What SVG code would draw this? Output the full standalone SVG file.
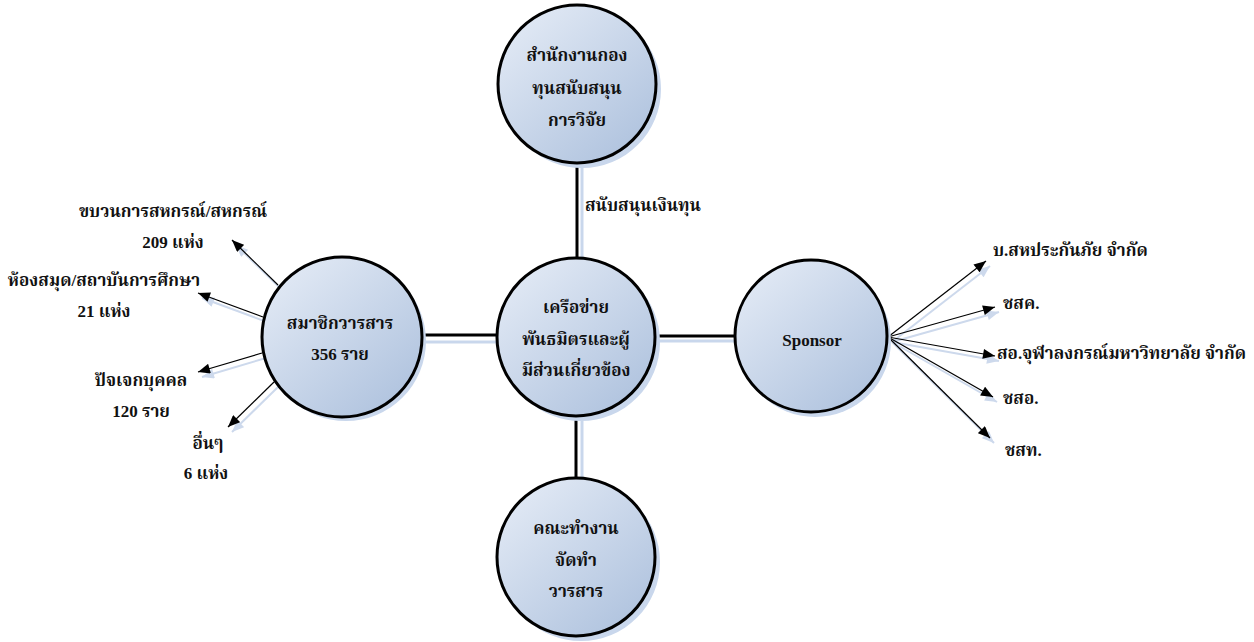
<svg xmlns="http://www.w3.org/2000/svg" width="1254" height="642" viewBox="0 0 1254 642">
<defs>
<linearGradient id="g" x1="0.15" y1="0.1" x2="0.85" y2="0.9">
<stop offset="0" stop-color="#e0e8f4"/>
<stop offset="1" stop-color="#b1c4df"/>
</linearGradient>
<marker id="ah" viewBox="0 0 12 10" refX="12" refY="5" markerWidth="13" markerHeight="10" markerUnits="userSpaceOnUse" orient="auto">
<path d="M0,0 L12,5 L0,10 z" fill="#000"/>
</marker>
<marker id="ahs" viewBox="0 0 12 10" refX="12" refY="5" markerWidth="13" markerHeight="10" markerUnits="userSpaceOnUse" orient="auto">
<path d="M0,0 L12,5 L0,10 z" fill="#cdd9ec"/>
</marker>
</defs>
<style>
.node circle.c{fill:url(#g);stroke:#000;stroke-width:3}
.node circle.s{fill:#c9d7ec}
.t{font-family:"Liberation Serif","Noto Serif Thai","Noto Sans Thai",serif;font-weight:bold;font-size:17px;fill:#111;text-anchor:middle;dominant-baseline:central}
.l{font-family:"Liberation Serif","Noto Serif Thai","Noto Sans Thai",serif;font-weight:bold;font-size:17px;fill:#111;dominant-baseline:central}
.conn{stroke:#000;stroke-width:3;fill:none}
.conns{stroke:#c9d7ec;stroke-width:3;fill:none}
.arr{stroke:#000;stroke-width:1.2;fill:none;marker-end:url(#ah)}
.arrs{stroke:#cdd9ec;stroke-width:2;fill:none;marker-end:url(#ahs)}
</style>
<rect width="1254" height="642" fill="#fff"/>
<g id="connectors">
<g class="conns">
<line x1="582" y1="163" x2="582" y2="263"/>
<line x1="582" y1="420" x2="582" y2="482"/>
<line x1="420" y1="342" x2="507" y2="342"/>
<line x1="655" y1="341" x2="740" y2="341"/>
</g>
<g class="conn">
<line x1="577" y1="163" x2="577" y2="258"/>
<line x1="576" y1="416" x2="576" y2="478"/>
<line x1="420" y1="335" x2="498" y2="335"/>
<line x1="655" y1="336" x2="736" y2="336"/>
</g>
<g transform="translate(4,5)">
<line class="arrs" x1="278" y1="285" x2="232" y2="240"/>
<line class="arrs" x1="263" y1="317" x2="198" y2="293"/>
<line class="arrs" x1="262" y1="353" x2="198" y2="372"/>
<line class="arrs" x1="274" y1="382" x2="228" y2="427"/>
<line class="arrs" x1="888" y1="337" x2="986" y2="261"/>
<line class="arrs" x1="888" y1="337" x2="995" y2="307"/>
<line class="arrs" x1="888" y1="337" x2="995" y2="356"/>
<line class="arrs" x1="888" y1="337" x2="993" y2="397"/>
<line class="arrs" x1="888" y1="337" x2="990" y2="438"/>
</g>
<line class="arr" x1="278" y1="285" x2="232" y2="240"/>
<line class="arr" x1="263" y1="317" x2="198" y2="293"/>
<line class="arr" x1="262" y1="353" x2="198" y2="372"/>
<line class="arr" x1="274" y1="382" x2="228" y2="427"/>
<line class="arr" x1="888" y1="337" x2="986" y2="261"/>
<line class="arr" x1="888" y1="337" x2="995" y2="307"/>
<line class="arr" x1="888" y1="337" x2="995" y2="356"/>
<line class="arr" x1="888" y1="337" x2="993" y2="397"/>
<line class="arr" x1="888" y1="337" x2="990" y2="438"/>
<text class="l" x="585" y="205">สนับสนุนเงินทุน</text>
</g>
<g id="n-top" class="node">
<circle class="s" cx="582" cy="89" r="79"/>
<circle class="c" cx="577" cy="84" r="79"/>
<text class="t" x="577" y="55">สำนักงานกอง</text>
<text class="t" x="577" y="88">ทุนสนับสนุน</text>
<text class="t" x="577" y="120">การวิจัย</text>
</g>
<g id="n-center" class="node">
<circle class="s" cx="581" cy="342" r="79"/>
<circle class="c" cx="576" cy="337" r="79"/>
<text class="t" x="576" y="307">เครือข่าย</text>
<text class="t" x="576" y="339">พันธมิตรและผู้</text>
<text class="t" x="576" y="370">มีส่วนเกี่ยวข้อง</text>
</g>
<g id="n-bottom" class="node">
<circle class="s" cx="581" cy="562" r="79"/>
<circle class="c" cx="576" cy="557" r="79"/>
<text class="t" x="576" y="528">คณะทำงาน</text>
<text class="t" x="576" y="560">จัดทำ</text>
<text class="t" x="576" y="591">วารสาร</text>
</g>
<g id="n-left" class="node">
<circle class="s" cx="346" cy="341" r="80"/>
<circle class="c" cx="342" cy="337" r="80"/>
<text class="t" x="340" y="323">สมาชิกวารสาร</text>
<text class="t" x="340" y="354">356 ราย</text>
</g>
<g id="n-sponsor" class="node">
<circle class="s" cx="815" cy="341" r="76"/>
<circle class="c" cx="811" cy="336" r="76"/>
<text class="t" x="812" y="340">Sponsor</text>
</g>
<g id="left-labels">
<text class="t" x="173" y="211">ขบวนการสหกรณ์/สหกรณ์</text>
<text class="t" x="173" y="242">209 แห่ง</text>
<text class="t" x="104" y="280">ห้องสมุด/สถาบันการศึกษา</text>
<text class="t" x="104" y="311">21 แห่ง</text>
<text class="t" x="141" y="380">ปัจเจกบุคคล</text>
<text class="t" x="141" y="411">120 ราย</text>
<text class="t" x="208" y="443">อื่นๆ</text>
<text class="t" x="206" y="473">6  แห่ง</text>
</g>
<g id="right-labels">
<text class="l" x="993" y="250">บ.สหประกันภัย จำกัด</text>
<text class="l" x="1003" y="303">ชสค.</text>
<text class="l" x="997" y="353">สอ.จุฬาลงกรณ์มหาวิทยาลัย จำกัด</text>
<text class="l" x="1003" y="398">ชสอ.</text>
<text class="l" x="1005" y="450">ชสท.</text>
</g>
</svg>
